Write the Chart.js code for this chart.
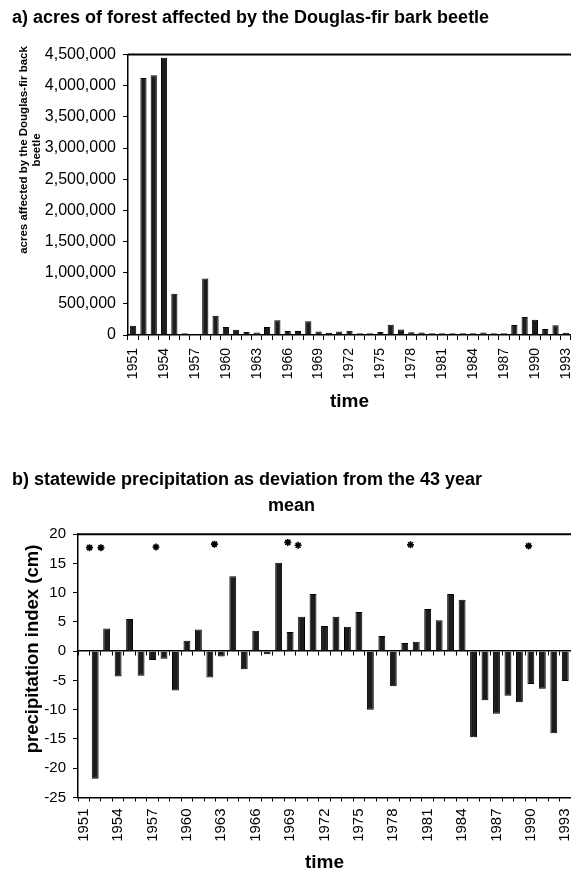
<!DOCTYPE html>
<html>
<head>
<meta charset="utf-8">
<script src="https://cdn.jsdelivr.net/npm/chart.js@4.4.1/dist/chart.umd.min.js"></script>
<style>
  html, body { margin: 0; padding: 0; background: #fff; }
  .box { position: relative; width: 571px; }
</style>
</head>
<body>
<div class="box" style="height:430px"><canvas id="chart1"></canvas></div>
<div class="box" style="height:445px"><canvas id="chart2"></canvas></div>
<script>
const years = [
  '1951', '1952', '1953', '1954', '1955', '1956', '1957', '1958', '1959', '1960',
  '1961', '1962', '1963', '1964', '1965', '1966', '1967', '1968', '1969', '1970',
  '1971', '1972', '1973', '1974', '1975', '1976', '1977', '1978', '1979', '1980',
  '1981', '1982', '1983', '1984', '1985', '1986', '1987', '1988', '1989', '1990',
  '1991', '1992', '1993',
];

// a) acres affected by the beetle
const beetleAcres = [
  150000, 4125000, 4170000, 4450000, 660000, 30000, 20000, 905000, 310000, 130000,
  85000, 50000, 40000, 130000, 235000, 65000, 65000, 220000, 55000, 35000,
  55000, 70000, 30000, 30000, 50000, 165000, 90000, 45000, 40000, 30000,
  30000, 30000, 30000, 30000, 40000, 30000, 30000, 160000, 290000, 245000,
  95000, 155000, 35000,
];

// b) precipitation index (cm)
const precipIndex = [
  0, -21.8, 3.9, -4.3, 5.5, -4.2, -1.5, -1.3, -6.7, 1.8,
  3.7, -4.5, -0.9, 12.8, -3.1, 3.5, -0.5, 15.1, 3.3, 5.9,
  9.8, 4.3, 5.9, 4.2, 6.7, -10.0, 2.6, -6.0, 1.4, 1.6,
  7.2, 5.3, 9.8, 8.8, -14.7, -8.4, -10.7, -7.6, -8.7, -5.6,
  -6.4, -14.0, -5.1,
];

// asterisks over the precipitation chart
const starYears = [1951.5, 1952.5, 1957.3, 1962.4, 1968.8, 1969.7, 1979.5, 1989.8];
const starLevels = [17.7, 17.7, 17.8, 18.3, 18.6, 18.1, 18.2, 18.0];

Chart.defaults.font.family = "'Liberation Sans', Arial, sans-serif";
Chart.defaults.color = '#000';

// draws the rotated y titles and the top edge of the plot frame
const sideTitle = {
  id: 'sideTitle',
  afterDraw(chart, args, opts) {
    const ctx = chart.ctx;
    const a = chart.chartArea;
    ctx.save();
    ctx.strokeStyle = '#000';
    ctx.lineWidth = 2;
    ctx.beginPath();
    ctx.moveTo(a.left, a.top);
    ctx.lineTo(a.right, a.top);
    ctx.stroke();
    ctx.font = opts.font;
    ctx.fillStyle = '#000';
    ctx.textAlign = 'center';
    ctx.textBaseline = 'middle';
    opts.lines.forEach((line, i) => {
      ctx.save();
      ctx.translate(opts.x + i * opts.lineHeight, opts.y);
      ctx.rotate(-Math.PI / 2);
      ctx.fillText(line, 0, 0);
      ctx.restore();
    });
    ctx.restore();
  },
};

const everyThird = function (val, i) {
  return i % 3 === 0 ? this.getLabelForValue(val) : '';
};

const noSidePadding = (scale) => {
  scale.paddingLeft = 0;
  scale.paddingRight = 0;
};

new Chart(document.getElementById('chart1'), {
  type: 'bar',
  data: {
    labels: years,
    datasets: [{
      data: beetleAcres,
      backgroundColor: '#1c1c1c',
      borderColor: '#000',
      borderWidth: 1,
      barPercentage: 0.6,
      categoryPercentage: 1,
    }],
  },
  options: {
    responsive: true,
    maintainAspectRatio: false,
    animation: false,
    layout: { autoPadding: false, padding: { left: 12, right: 0 } },
    plugins: {
      legend: { display: false },
      tooltip: { enabled: false },
      title: {
        display: true,
        text: 'a) acres of forest affected by the Douglas-fir bark beetle',
        align: 'start',
        color: '#000',
        font: { size: 18, weight: 'bold' },
        padding: { top: 7, bottom: 26 },
      },
      sideTitle: {
        lines: ['acres affected by the Douglas-fir back', 'beetle'],
        font: "bold 11.5px 'Liberation Sans', Arial, sans-serif",
        x: 24, y: 150, lineHeight: 12.7,
      },
    },
    scales: {
      x: {
        grid: { drawOnChartArea: false, color: '#000', tickLength: 5 },
        border: { color: '#000', width: 1.5 },
        ticks: {
          autoSkip: false, minRotation: 90, maxRotation: 90, padding: 8,
          font: { size: 14 }, callback: everyThird,
        },
        title: {
          display: true, text: 'time',
          font: { size: 19, weight: 'bold' },
          padding: { top: 0, bottom: 17 },
        },
        afterFit(scale) {
          scale.height = 95;
          noSidePadding(scale);
        },
      },
      y: {
        min: 0,
        max: 4500000,
        grid: { drawOnChartArea: false, color: '#000', tickLength: 5 },
        border: { color: '#000', width: 1.5 },
        ticks: {
          stepSize: 500000, padding: 7, font: { size: 16 },
          callback: (v) => v.toLocaleString('en-US'),
        },
        afterFit(scale) { scale.width = 116; },
      },
    },
  },
  plugins: [sideTitle],
});

new Chart(document.getElementById('chart2'), {
  type: 'bar',
  data: {
    labels: years,
    datasets: [
      {
        data: precipIndex,
        xAxisID: 'x',
        yAxisID: 'y',
        grouped: false,
        backgroundColor: '#1c1c1c',
        borderColor: '#000',
        borderWidth: 1,
        barPercentage: 0.6,
        categoryPercentage: 1,
      },
      {
        type: 'scatter',
        data: starYears.map((yr, i) => ({ x: yr, y: starLevels[i] })),
        xAxisID: 'xs',
        yAxisID: 'y',
        pointStyle: 'star',
        radius: 3.5,
        borderColor: '#000',
        backgroundColor: '#000',
        borderWidth: 1.6,
      },
    ],
  },
  options: {
    responsive: true,
    maintainAspectRatio: false,
    animation: false,
    layout: { autoPadding: false, padding: { left: 12, right: 0 } },
    plugins: {
      legend: { display: false },
      tooltip: { enabled: false },
      title: {
        display: true,
        text: 'b) statewide precipitation as deviation from the 43 year',
        align: 'start',
        color: '#000',
        font: { size: 18, weight: 'bold' },
        padding: { top: 39, bottom: 3 },
      },
      subtitle: {
        display: true,
        text: 'mean',
        align: 'center',
        color: '#000',
        font: { size: 18, weight: 'bold' },
        padding: { top: 2, bottom: 17 },
      },
      sideTitle: {
        lines: ['precipitation index (cm)'],
        font: "bold 18.5px 'Liberation Sans', Arial, sans-serif",
        x: 33, y: 219, lineHeight: 0,
      },
    },
    scales: {
      x: {
        grid: { drawOnChartArea: false, color: '#000', tickLength: 4 },
        border: { color: '#000', width: 1.5 },
        ticks: {
          autoSkip: false, minRotation: 90, maxRotation: 90, padding: 7,
          font: { size: 15 }, callback: everyThird,
        },
        title: {
          display: true, text: 'time',
          font: { size: 19, weight: 'bold' },
          padding: { top: 0, bottom: 1 },
        },
        afterFit(scale) {
          scale.height = 77.5;
          noSidePadding(scale);
        },
      },
      x0: {
        type: 'category',
        position: { y: 0 },
        offset: true,
        grid: { drawOnChartArea: false, color: '#000', tickLength: 4, offset: true },
        border: { color: '#000', width: 1.5 },
        ticks: { display: false },
        afterFit: noSidePadding,
      },
      xs: {
        type: 'linear',
        display: false,
        offset: false,
        min: 1950.5,
        max: 1993.5,
        afterFit: noSidePadding,
      },
      y: {
        min: -25,
        max: 20,
        grid: { drawOnChartArea: false, color: '#000', tickLength: 5 },
        border: { color: '#000', width: 1.5 },
        ticks: { stepSize: 5, padding: 7, font: { size: 15 } },
        afterFit(scale) { scale.width = 66; },
      },
    },
  },
  plugins: [sideTitle],
});
</script>
</body>
</html>
